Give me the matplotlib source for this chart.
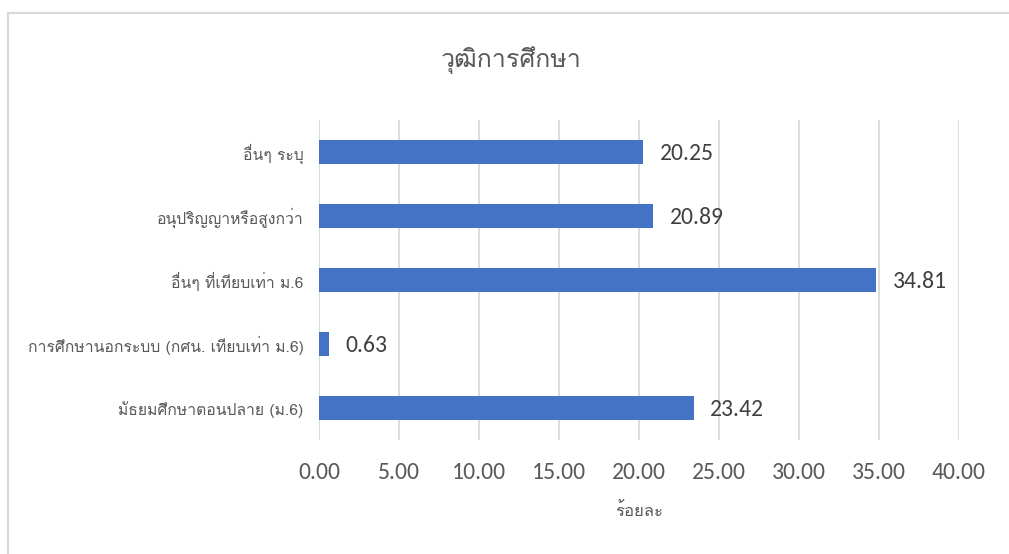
import matplotlib
matplotlib.use("Agg")
import matplotlib.pyplot as plt
from matplotlib.lines import Line2D

# categories listed bottom -> top as drawn
categories = [
    "มัธยมศึกษาตอนปลาย (ม.6)",
    "การศึกษานอกระบบ (กศน. เทียบเท่า ม.6)",
    "อื่นๆ ที่เทียบเท่า ม.6",
    "อนุปริญญาหรือสูงกว่า",
    "อื่นๆ ระบุ",
]
percent = [23.42, 0.63, 34.81, 20.89, 20.25]
x_ticks = [0, 5, 10, 15, 20, 25, 30, 35, 40]

THAI = ["Loma", "Noto Sans Thai Looped", "DejaVu Sans"]
NUM = ["Carlito", "Noto Sans Thai Looped", "DejaVu Sans"]
GREY = "#595959"
BAR = "#4472C4"

W, H = 1009, 554
fig = plt.figure(figsize=(W / 100, H / 100), dpi=100)
ax = fig.add_axes([319 / W, 1 - 440 / H, 640 / W, 320 / H])

pos = range(len(categories))
ax.barh(pos, percent, height=0.36, color=BAR, zorder=3)
for y, v in zip(pos, percent):
    ax.annotate(f"{v:.2f}", (v, y), xytext=(12, -1), textcoords="offset points",
                va="center", ha="left", fontsize=17, color="#404040", family=NUM)

ax.set_xlim(0, 40)
ax.set_ylim(-0.5, len(categories) - 0.5)
ax.set_xticks(x_ticks)
ax.set_xticklabels([f"{t:.2f}" for t in x_ticks], family=NUM, fontsize=17, color=GREY)
ax.set_yticks(list(pos))
ax.set_yticklabels(categories, family=THAI, fontsize=11.3, color=GREY)
ax.tick_params(axis="both", length=0)
ax.tick_params(axis="x", pad=16)
ax.tick_params(axis="y", pad=11)
ax.grid(axis="x", color="#D9D9D9", linewidth=1.3, zorder=0)
for s in ax.spines.values():
    s.set_visible(False)

ax.set_xlabel("ร้อยละ", family=THAI, fontsize=12, color=GREY, labelpad=14)
fig.text(511 / W, 1 - 60 / H, "วุฒิการศึกษา", family=THAI, fontsize=18,
         color=GREY, ha="center", va="center")

# chart frame (left and top edges are visible in the reference)
fig.add_artist(Line2D([7.5 / W, 7.5 / W], [0, 1 - 13 / H], transform=fig.transFigure,
                      color="#D9D9D9", linewidth=1.5))
fig.add_artist(Line2D([7.5 / W, 1], [1 - 13 / H, 1 - 13 / H], transform=fig.transFigure,
                      color="#D9D9D9", linewidth=1.5))

fig.savefig("out.png", dpi=100)
